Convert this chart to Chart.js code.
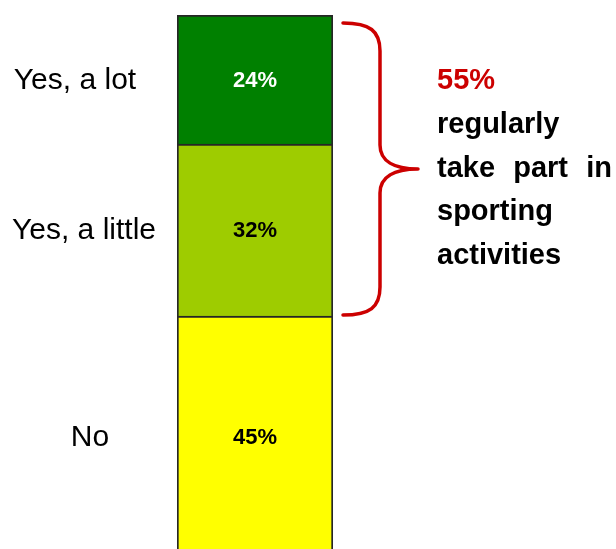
<!DOCTYPE html>
<html>
<head>
<meta charset="utf-8">
<script src="https://cdn.jsdelivr.net/npm/chart.js@4/dist/chart.umd.min.js"></script>
<style>
    html, body { margin: 0; padding: 0; background: #ffffff; overflow: hidden; }
    #wrap { position: relative; width: 616px; height: 560px; }
</style>
</head>
<body>
<div id="wrap"><canvas id="sportChart"></canvas></div>
<script>
// Respuestas, de arriba abajo en la barra
const categories = ['Yes, a lot', 'Yes, a little', 'No'];
const shares = [24, 32, 45];
const summaryShare = '55%';
const summaryLines = ['regularly', 'take part in', 'sporting', 'activities'];

const SEGMENT_COLORS = ['#008000', '#9ECC00', '#FFFF00'];
const VALUE_COLORS = ['#ffffff', '#000000', '#000000'];
const LABEL_X = [75, 84, 90];
const FONT = "'Liberation Sans', Arial, sans-serif";
const RED = '#CC0000';

const total = shares.reduce((s, v) => s + v, 0);

// Chart.js apila de abajo arriba: se invierte el orden
const datasets = categories.map((name, i) => ({
    label: name,
    data: [shares[i]],
    backgroundColor: SEGMENT_COLORS[i],
    borderColor: '#262626',
    borderWidth: 2,
    barPercentage: 1,
    categoryPercentage: 1
})).reverse();

// Etiquetas, llave y texto resumen
const annotations = {
    id: 'annotations',
    afterDatasetsDraw(chart) {
        const ctx = chart.ctx;
        const area = chart.chartArea;
        const n = chart.data.datasets.length;
        const bars = [];
        for (let d = 0; d < n; d++) {
            const el = chart.getDatasetMeta(d).data[0];
            bars.push({ label: chart.data.datasets[d].label, el: el });
        }
        ctx.save();
        ctx.textBaseline = 'middle';
        ctx.textAlign = 'center';
        bars.forEach(b => {
            const i = categories.indexOf(b.label);
            const cy = (b.el.y + b.el.base) / 2;
            ctx.font = 'bold 22px ' + FONT;
            ctx.fillStyle = VALUE_COLORS[i];
            ctx.fillText(shares[i] + '%', b.el.x, cy + 1);
            ctx.font = '30px ' + FONT;
            ctx.fillStyle = '#000000';
            ctx.fillText(categories[i], LABEL_X[i], cy + 1);
        });

        // Llave sobre los dos segmentos de "Yes"
        const yScale = chart.scales.y;
        const top = yScale.getPixelForValue(total) + 8;
        const little = bars.find(b => b.label === categories[1]).el;
        const bottom = little.base - 1;
        const mid = (top + bottom) / 2;
        const x0 = area.right + 10;
        const xs = area.right + 47;
        const xt = area.right + 85;
        ctx.beginPath();
        ctx.moveTo(x0, top);
        ctx.bezierCurveTo(x0 + 27, top, xs, top + 8, xs, top + 28);
        ctx.lineTo(xs, mid - 24);
        ctx.bezierCurveTo(xs, mid - 8, xs + 14, mid, xt, mid);
        ctx.bezierCurveTo(xs + 14, mid, xs, mid + 8, xs, mid + 24);
        ctx.lineTo(xs, bottom - 28);
        ctx.bezierCurveTo(xs, bottom - 8, x0 + 27, bottom, x0, bottom);
        ctx.strokeStyle = RED;
        ctx.lineWidth = 3.5;
        ctx.lineCap = 'round';
        ctx.lineJoin = 'round';
        ctx.stroke();

        // Texto resumen, justificado
        const tx = 437;
        const lineW = 175;
        ctx.textAlign = 'left';
        ctx.textBaseline = 'alphabetic';
        ctx.font = 'bold 29px ' + FONT;
        ctx.fillStyle = RED;
        ctx.fillText(summaryShare, tx, 89);
        ctx.fillStyle = '#000000';
        summaryLines.forEach((line, k) => {
            const y = 133 + k * 43.5;
            const words = line.split(' ');
            if (words.length > 1) {
                const used = words.reduce((s, w) => s + ctx.measureText(w).width, 0);
                const gap = (lineW - used) / (words.length - 1);
                let x = tx;
                words.forEach(w => {
                    ctx.fillText(w, x, y);
                    x += ctx.measureText(w).width + gap;
                });
            } else {
                ctx.fillText(line, tx, y);
            }
        });
        ctx.restore();
    }
};

new Chart(document.getElementById('sportChart'), {
    type: 'bar',
    data: {
        labels: [''],
        datasets: datasets
    },
    options: {
        responsive: true,
        maintainAspectRatio: false,
        animation: false,
        layout: {
            padding: { left: 177, right: 283, top: 15, bottom: 2 }
        },
        plugins: {
            legend: { display: false },
            tooltip: { enabled: false }
        },
        scales: {
            x: { stacked: true, display: false },
            y: { stacked: true, display: false, min: 0, max: total }
        }
    },
    plugins: [annotations]
});
</script>
</body>
</html>
